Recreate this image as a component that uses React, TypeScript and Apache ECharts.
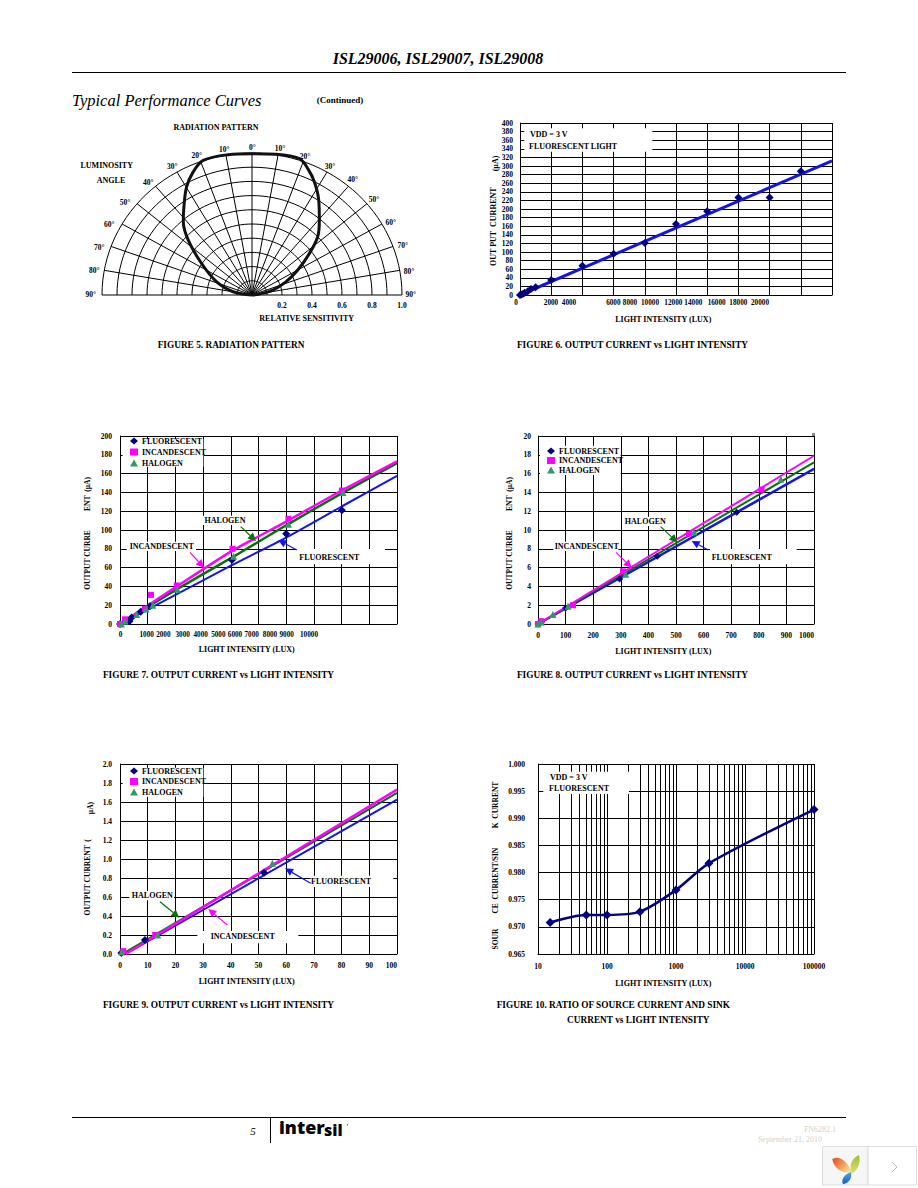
import React, { useEffect, useRef } from "react";
import * as echarts from "echarts";

// ---------- Figure 5: radiation pattern ----------
const ringValues = [0.1, 0.2, 0.3, 0.4, 0.5, 0.6, 0.7, 0.8, 0.9, 1.0];
const rayAngles = [-90, -80, -70, -60, -50, -40, -30, -20, -10, 0, 10, 20, 30, 40, 50, 60, 70, 80, 90];
// relative x / y position of the sensitivity contour, read clockwise from bottom-left
const patternX = [0, -0.126, -0.237, -0.336, -0.425, -0.458, -0.454, -0.436, -0.392, -0.325, -0.159, 0, 0.161, 0.316, 0.372, 0.416, 0.445, 0.449, 0.438, 0.383, 0.305, 0.228, 0.139, 0.051, 0];
const patternY = [0, 0.023, 0.094, 0.222, 0.386, 0.515, 0.621, 0.761, 0.867, 0.948, 0.988, 0.995, 0.991, 0.96, 0.89, 0.796, 0.667, 0.527, 0.41, 0.293, 0.176, 0.094, 0.035, 0.007, 0];

// ---------- Figure 6 ----------
const fig6X = [0, 100, 200, 300, 500, 700, 1000, 2000, 4000, 6000, 8000, 10000, 12000, 14000, 16000, 18000];
const fig6Y = [0, 1, 3, 5, 9, 14, 18, 35, 68, 96, 121, 165, 195, 227, 227, 288];
const fig6LineX = [0, 20000];
const fig6LineY = [0, 312];
const fig6Ticks = ["0", "2000", "4000", "6000", "8000", "10000", "12000", "14000", "16000", "18000", "20000"];

// ---------- Figure 7 ----------
const fig7FluorX = [0, 340, 420, 750, 1080, 4040, 6000, 8010];
const fig7FluorY = [0, 3, 7, 13, 19, 68, 96, 121];
const fig7IncX = [0, 180, 900, 1120, 2050, 4060, 6080, 8010];
const fig7IncY = [0, 5, 16, 31, 41, 80, 112, 142];
const fig7HalX = [50, 180, 600, 940, 1180, 2070, 4100, 6080, 8050];
const fig7HalY = [0, 3, 10, 16, 20, 37, 72, 106, 140];
const fig7LineX = [0, 2000, 4000, 6000, 8000, 10000];
const fig7IncLine = [0, 39, 77, 109, 142, 173];
const fig7HalLine = [0, 36, 70, 105, 139, 171];
const fig7FluorLine = [0, 31, 62, 92, 125, 157.5];
const fig7Ticks = ["0", "1000", "2000", "3000", "4000", "5000", "6000", "7000", "8000", "9000", "10000"];

// ---------- Figure 8 ----------
const fig8FluorX = [0, 12, 100, 296, 432, 720];
const fig8FluorY = [0, 0.2, 1.7, 4.8, 7.2, 11.9];
const fig8IncX = [0, 12, 127, 308, 547, 810];
const fig8IncY = [0, 0.3, 2, 5.6, 9.6, 14.3];
const fig8HalX = [0, 12, 54, 109, 318, 565, 880];
const fig8HalY = [0, 0.2, 1, 1.9, 5.3, 9.8, 15.4];
const fig8LineX = [0, 1000];
const fig8IncLine = [0, 17.9];
const fig8HalLine = [0, 17.2];
const fig8FluorLine = [0, 16.5];

// ---------- Figure 9 ----------
const fig9FluorX = [0.5, 9, 52];
const fig9FluorY = [0.01, 0.148, 0.856];
const fig9IncX = [1.2, 12.7];
const fig9IncY = [0.03, 0.2];
const fig9HalX = [0.6, 13.6, 55];
const fig9HalY = [0.02, 0.2, 0.955];
const fig9IncLineX = [2, 100];
const fig9IncLine = [0, 1.73];
const fig9HalLineX = [2, 100];
const fig9HalLine = [0.02, 1.695];
const fig9FluorLineX = [2, 100];
const fig9FluorLine = [0, 1.625];

// ---------- Figure 10 ----------
const fig10X = [15, 50, 100, 300, 1000, 3000, 100000];
const fig10Y = [0.9708, 0.9722, 0.9722, 0.9728, 0.9768, 0.9817, 0.9916];
const fig10Minor = [20, 30, 40, 50, 60, 70, 80, 90, 200, 300, 400, 500, 600, 700, 800, 900, 2000, 3000, 4000, 5000, 6000, 7000, 8000, 9000, 20000, 30000, 40000, 50000, 60000, 70000, 80000, 90000];

const lampNames = ["FLUORESCENT", "INCANDESCENT", "HALOGEN"];
const serif = '"Liberation Serif", serif';
const NAVY = "#000080";
const BLUE = "#1414e6";
const MAGENTA = "#ff00ff";
const GREEN = "#057305";
const TEAL = "#339966";
const TICK = 7.5;

const zip = (a: number[], b: number[]) => a.map((v, i) => [v, b[i]]);

function text(t: string, x: number, y: number, o: any = {}) {
  return {
    type: "text",
    x,
    y,
    z: 6,
    rotation: o.rot ? Math.PI / 2 : 0,
    style: {
      text: t,
      fill: o.fill || "#000",
      textAlign: o.align || "center",
      textVerticalAlign: "middle",
      font: `${o.style || ""} ${o.weight || "bold"} ${o.size || 8}px ${o.family || serif}`,
    },
  };
}
// boxes and arrows are given in a local 3x frame with an origin
function whiteBox(ox: number, oy: number, b: number[]) {
  return {
    type: "rect",
    z: 1,
    shape: { x: ox + b[0] / 3, y: oy + b[1] / 3, width: (b[2] - b[0]) / 3, height: (b[3] - b[1]) / 3 },
    style: { fill: "#fff" },
  };
}
function arrow(ox: number, oy: number, a: number[], color: string) {
  const x1 = ox + a[0] / 3, y1 = oy + a[1] / 3, x2 = ox + a[2] / 3, y2 = oy + a[3] / 3;
  const t = Math.atan2(y2 - y1, x2 - x1);
  const L = 8, W = 4;
  const bx = x2 - L * Math.cos(t), by = y2 - L * Math.sin(t);
  return [
    { type: "line", z: 4, shape: { x1, y1, x2: bx, y2: by }, style: { stroke: color, lineWidth: 1.2 } },
    {
      type: "polygon",
      z: 4,
      shape: { points: [[x2, y2], [bx - W * Math.sin(t), by + W * Math.cos(t)], [bx + W * Math.sin(t), by - W * Math.cos(t)]] },
      style: { fill: color },
    },
  ];
}

const LINE = { color: "#000", width: 1 };
function xAxis(gridIndex: number, min: number, max: number, interval: number, showLabel: boolean) {
  return {
    type: "value", gridIndex, min, max, interval,
    axisLine: { lineStyle: LINE, onZero: false }, axisTick: { show: false },
    splitLine: { show: true, lineStyle: LINE },
    axisLabel: { show: showLabel, color: "#000", fontFamily: serif, fontSize: TICK, fontWeight: "bold", margin: 7, alignMaxLabel: "right", hideOverlap: false, formatter: (v: number) => String(v) },
  };
}
function yAxis(gridIndex: number, min: number, max: number, interval: number, digits: number, size: number, margin: number) {
  return {
    type: "value", gridIndex, min, max, interval,
    axisLine: { lineStyle: LINE, onZero: false }, axisTick: { show: false },
    splitLine: { show: true, lineStyle: LINE },
    axisLabel: { color: "#000", fontFamily: serif, fontSize: size, fontWeight: "bold", margin, formatter: (v: number) => v.toFixed(digits) },
  };
}
function lineS(i: number, data: number[][], color: string, width: number, smooth: any = false) {
  return { type: "line", xAxisIndex: i, yAxisIndex: i, data, smooth, showSymbol: false, symbol: "none", z: 2, lineStyle: { color, width }, itemStyle: { color }, clip: false, silent: true };
}
function dots(i: number, name: string, data: number[][], symbol: string, color: string, size: number) {
  return { type: "scatter", name, xAxisIndex: i, yAxisIndex: i, data, symbol, symbolSize: size, z: 3, itemStyle: { color, opacity: 1 }, clip: false, silent: true };
}
function lampLegend(left: number, top: number, itemGap: number) {
  return {
    data: lampNames, left, top, orient: "vertical", itemWidth: 8, itemHeight: 7, itemGap, padding: 0, selectedMode: false,
    textStyle: { fontFamily: serif, fontSize: 8, fontWeight: "bold", color: "#000", padding: [0, 0, 0, -1] },
  };
}

echarts.graphic.registerShape("petalOrange", echarts.graphic.extendPath("M52 58 C70 45 95 60 112 98 C85 100 58 90 52 58Z", {}) as any);
echarts.graphic.registerShape("petalGreen", echarts.graphic.extendPath("M132 45 C138 65 130 90 112 100 C100 85 108 55 132 45Z", {}) as any);
echarts.graphic.registerShape("petalBlue", echarts.graphic.extendPath("M108 96 C112 112 105 128 84 133 C78 120 85 105 108 96Z", {}) as any);

function buildOption() {
  const g: any[] = [];
  const add = (...e: any[]) => g.push(...e);

  // page furniture
  add(text("ISL29006, ISL29007, ISL29008", 438, 58, { style: "italic", size: 16 }));
  add({ type: "line", z: 1, shape: { x1: 72, y1: 72.5, x2: 846, y2: 72.5 }, style: { stroke: "#000", lineWidth: 1 } });
  add(text("Typical Performance Curves", 72, 100, { style: "italic", weight: "normal", size: 16.5, align: "left" }));
  add(text("(Continued)", 340, 100, { size: 9 }));
  add({ type: "line", z: 1, shape: { x1: 72, y1: 1117.5, x2: 846, y2: 1117.5 }, style: { stroke: "#000", lineWidth: 1 } });
  add({ type: "line", z: 1, shape: { x1: 270.5, y1: 1117, x2: 270.5, y2: 1143 }, style: { stroke: "#000", lineWidth: 1 } });
  add(text("5", 253, 1131, { style: "italic", weight: "normal", size: 11 }));
  add(text("inter", 279, 1127, { weight: "800", size: 18, family: '"Open Sans", sans-serif', align: "left" }));
  add(text("sil", 324, 1130, { weight: "800", size: 16, family: '"Open Sans", sans-serif', align: "left" }));
  add({ type: "rect", z: 5, shape: { x: 347, y: 1124, width: 1, height: 1.5 }, style: { fill: "#666" } });
  add(text("FN6282.1", 820, 1129, { weight: "normal", fill: "#cfcfcf" }));
  add(text("September 21, 2010", 790, 1139, { weight: "normal", fill: "#cfcfcf" }));
  // page widget
  add({ type: "rect", z: 1, shape: { x: 822.5, y: 1146.5, width: 45.5, height: 38.5 }, style: { fill: "#f6f6f6", stroke: "#dcdcdc", lineWidth: 1 } });
  add({ type: "rect", z: 1, shape: { x: 868, y: 1146.5, width: 48.5, height: 38.5 }, style: { fill: "#fff", stroke: "#dcdcdc", lineWidth: 1 } });
  add({ type: "polyline", z: 2, shape: { points: [[892, 1162], [897, 1167], [892, 1172]] }, style: { stroke: "#bbb", fill: "none", lineWidth: 1 } });
  const linear = (c1: string, c2: string, x2: number, y2: number) => ({ type: "linear", x: 0, y: 0, x2, y2, colorStops: [{ offset: 0, color: c1 }, { offset: 1, color: c2 }] });
  add({ type: "petalOrange", z: 2, x: 815, y: 1140, scaleX: 1 / 3, scaleY: 1 / 3, style: { fill: linear("#e4481a", "#ffd98a", 1, 0.6) } });
  add({ type: "petalGreen", z: 2, x: 815, y: 1140, scaleX: 1 / 3, scaleY: 1 / 3, style: { fill: linear("#9fc12a", "#dcdc7c", 0, 1) } });
  add({ type: "petalBlue", z: 2, x: 815, y: 1140, scaleX: 1 / 3, scaleY: 1 / 3, style: { fill: linear("#5aa8e2", "#0b63bd", 0, 1) } });

  // Figure 5 texts
  add(text("RADIATION PATTERN", 216, 127));
  add(text("LUMINOSITY", 106.7, 165));
  add(text("ANGLE", 111, 180));
  add(text("RELATIVE SENSITIVITY", 306.7, 318.5));
  add(text("FIGURE 5. RADIATION PATTERN", 231, 344.5, { size: 9.3 }));
  const degLabels: [string, number, number][] = [
    ["0°", 577, 322], ["10°", 660, 325], ["20°", 735, 348], ["30°", 810, 378], ["40°", 878, 417], ["50°", 942, 478], ["60°", 992, 547], ["70°", 1028, 617], ["80°", 1047, 693], ["90°", 1052, 763],
    ["10°", 493, 328], ["20°", 410, 345], ["30°", 337, 378], ["40°", 265, 428], ["50°", 195, 488], ["60°", 148, 553], ["70°", 118, 622], ["80°", 103, 692], ["90°", 92, 762],
  ];
  degLabels.forEach(([t, x, y]) => add(text(t, 60 + x / 3, 40 + y / 3, { size: 7.5 })));

  // Figure 6
  add(whiteBox(480, 110, [133, 55, 517, 125]));
  add(text("VDD = 3 V", 530, 134.7, { align: "left" }));
  add(text("FLUORESCENT LIGHT", 529, 146, { align: "left" }));
  add(text("OUT PUT  CURRENT", 493, 226.7, { rot: 1 }));
  add(text("(µA)", 495, 163.5, { rot: 1 }));
  add(text("LIGHT INTENSITY (LUX)", 663.3, 319.3));
  add(text("FIGURE 6. OUTPUT CURRENT vs LIGHT INTENSITY", 632.5, 344.5, { size: 9.3 }));
  [108, 213, 267, 400, 450, 510, 580, 640, 710, 775, 840].forEach((x, i) => add(text(fig6Ticks[i], 480 + x / 3, 303, { size: 7.2 })));

  // Figure 7
  [[158, 42, 400, 125], [385, 272, 530, 300], [170, 350, 378, 378], [680, 372, 945, 418]].forEach((b) => add(whiteBox(70, 425, b)));
  add(text("HALOGEN", 225, 520.7));
  add(text("INCANDESCENT", 161.7, 546));
  add(text("FLUORESCENT", 329.3, 557.7));
  add(...arrow(70, 425, [512, 305, 558, 348], GREEN), ...arrow(70, 425, [360, 382, 402, 428], MAGENTA), ...arrow(70, 425, [680, 375, 625, 345], BLUE));
  add(text("OUTPUT CURRE", 87.3, 560, { rot: 1, size: 7.5 }));
  add(text("ENT  (µA)", 87.3, 494, { rot: 1, size: 7.5 }));
  add(text("LIGHT INTENSITY (LUX)", 246.7, 649));
  add(text("FIGURE 7. OUTPUT CURRENT vs LIGHT INTENSITY", 218.5, 674.5, { size: 9.3 }));
  [152, 230, 280, 338, 392, 445, 495, 545, 600, 650, 717].forEach((x, i) => add(text(fig7Ticks[i], 70 + x / 3, 635, { size: 7.2 })));

  // Figure 8
  [[150, 62, 392, 150], [398, 275, 540, 303], [190, 350, 385, 378], [660, 372, 920, 418]].forEach((b) => add(whiteBox(490, 425, b)));
  add(text("HALOGEN", 645.3, 521.7));
  add(text("INCANDESCENT", 586.7, 546));
  add(text("FLUORESCENT", 741.7, 557.7));
  add(...arrow(490, 425, [512, 305, 562, 352], GREEN), ...arrow(490, 425, [378, 382, 425, 428], MAGENTA), ...arrow(490, 425, [655, 375, 605, 348], BLUE));
  add(text("OUTPUT CURRE", 509, 560, { rot: 1, size: 7.5 }));
  add(text("ENT  (µA)", 509, 494, { rot: 1, size: 7.5 }));
  add(text("LIGHT INTENSITY (LUX)", 663.3, 651.7));
  add(text("FIGURE 8. OUTPUT CURRENT vs LIGHT INTENSITY", 632.5, 674.5, { size: 9.3 }));
  add({ type: "rect", z: 5, shape: { x: 812, y: 433, width: 3, height: 3 }, style: { fill: "#888" } });

  // Figure 9
  [[158, 38, 400, 125], [178, 408, 312, 436], [382, 528, 685, 565], [722, 362, 970, 396]].forEach((b) => add(whiteBox(70, 755, b)));
  add(text("HALOGEN", 152.3, 895.7));
  add(text("INCANDESCENT", 242.7, 936.7));
  add(text("FLUORESCENT", 341, 881.7));
  add(...arrow(70, 755, [270, 440, 328, 488], GREEN), ...arrow(70, 755, [472, 510, 415, 462], MAGENTA), ...arrow(70, 755, [722, 385, 645, 340], BLUE));
  add(text("OUTPUT CURRENT  (", 87.5, 877.3, { rot: 1, size: 7.5 }));
  add(text("µA)", 90.5, 808, { rot: 1, size: 7.5 }));
  add(text("LIGHT INTENSITY (LUX)", 246.7, 981.7));
  add(text("FIGURE 9. OUTPUT CURRENT vs LIGHT INTENSITY", 218.5, 1004.5, { size: 9.3 }));

  // Figure 10
  add(whiteBox(485, 755, [175, 50, 432, 117]));
  add(text("VDD = 3 V", 550, 777, { align: "left" }));
  add(text("FLUORESCENT", 549, 788, { align: "left" }));
  add(text("SOUR", 495, 939, { rot: 1, size: 7.5 }));
  add(text("CE  CURRENT/SIN", 495, 880.7, { rot: 1, size: 7.5 }));
  add(text("K  CURRENT", 495, 805, { rot: 1, size: 7.5 }));
  add(text("LIGHT INTENSITY (LUX)", 663.3, 983.3));
  add(text("FIGURE 10. RATIO OF SOURCE CURRENT AND SINK", 613.3, 1004.5, { size: 9.3 }));
  add(text("CURRENT vs LIGHT INTENSITY", 638.3, 1019.5, { size: 9.3 }));

  const grids = [
    { left: 102, top: 153, width: 300, height: 142 },
    { left: 520, top: 123, width: 312, height: 172 },
    { left: 120, top: 436, width: 277, height: 188 },
    { left: 538, top: 436, width: 276, height: 188 },
    { left: 120, top: 764, width: 277, height: 190 },
    { left: 538, top: 764, width: 276, height: 190 },
  ];

  const polarX = {
    type: "value", gridIndex: 0, min: -1, max: 1, interval: 0.2,
    axisLine: { show: false }, axisTick: { show: false }, splitLine: { show: false },
    axisLabel: { color: "#000", fontFamily: serif, fontSize: TICK, fontWeight: "bold", margin: 6, formatter: (v: number) => (v > 0.01 ? v.toFixed(1) : "") },
  };
  const polarY = { type: "value", gridIndex: 0, min: 0, max: 1, show: false, axisLine: { onZero: false } };

  const ringSeries = {
    type: "custom", xAxisIndex: 0, yAxisIndex: 0, silent: true, z: 1, data: ringValues.map((r) => [r]),
    renderItem: (_: any, api: any) => {
      const r = api.value(0);
      const points: number[][] = [];
      for (let a = -90; a <= 90; a += 3) {
        const t = (a * Math.PI) / 180;
        points.push(api.coord([r * Math.sin(t), r * Math.cos(t)]));
      }
      return { type: "polyline", shape: { points }, style: { stroke: "#000", fill: "none", lineWidth: 1 } };
    },
  };
  const raySeries = {
    type: "custom", xAxisIndex: 0, yAxisIndex: 0, silent: true, z: 1, data: rayAngles.map((a) => [a]),
    renderItem: (_: any, api: any) => {
      const t = (api.value(0) * Math.PI) / 180;
      const c0 = api.coord([0, 0]);
      const c1 = api.coord([Math.sin(t), Math.cos(t)]);
      return { type: "line", shape: { x1: c0[0], y1: c0[1], x2: c1[0], y2: c1[1] }, style: { stroke: "#000", lineWidth: 1 } };
    },
  };

  const series: any[] = [
    ringSeries,
    raySeries,
    lineS(0, zip(patternX, patternY), "#111", 3, 0.35),
    lineS(1, zip(fig6LineX, fig6LineY), BLUE, 3),
    dots(1, "FIG6", zip(fig6X, fig6Y), "diamond", NAVY, 8),
    lineS(2, zip(fig7LineX, fig7FluorLine), BLUE, 2, 0.2),
    lineS(2, zip(fig7LineX, fig7HalLine), GREEN, 2.5, 0.2),
    lineS(2, zip(fig7LineX, fig7IncLine), MAGENTA, 2.5, 0.2),
    dots(2, lampNames[0], zip(fig7FluorX, fig7FluorY), "diamond", NAVY, 8),
    dots(2, lampNames[1], zip(fig7IncX, fig7IncY), "rect", MAGENTA, 6),
    dots(2, lampNames[2], zip(fig7HalX, fig7HalY), "triangle", TEAL, 7),
    lineS(3, zip(fig8LineX, fig8FluorLine), BLUE, 2.5),
    lineS(3, zip(fig8LineX, fig8HalLine), GREEN, 2),
    lineS(3, zip(fig8LineX, fig8IncLine), MAGENTA, 2),
    dots(3, lampNames[0], zip(fig8FluorX, fig8FluorY), "diamond", NAVY, 7),
    dots(3, lampNames[1], zip(fig8IncX, fig8IncY), "rect", MAGENTA, 6),
    dots(3, lampNames[2], zip(fig8HalX, fig8HalY), "triangle", TEAL, 7),
    lineS(4, zip(fig9FluorLineX, fig9FluorLine), BLUE, 2),
    lineS(4, zip(fig9HalLineX, fig9HalLine), GREEN, 2),
    lineS(4, zip(fig9IncLineX, fig9IncLine), MAGENTA, 2.5),
    dots(4, lampNames[0], zip(fig9FluorX, fig9FluorY), "diamond", NAVY, 8),
    dots(4, lampNames[1], zip(fig9IncX, fig9IncY), "rect", MAGENTA, 6),
    dots(4, lampNames[2], zip(fig9HalX, fig9HalY), "triangle", TEAL, 7),
    {
      ...lineS(5, zip(fig10X, fig10Y), NAVY, 2.5, 0.3),
      markLine: { silent: true, symbol: "none", label: { show: false }, lineStyle: { color: "#000", width: 1, type: "solid" }, data: fig10Minor.map((v) => ({ xAxis: v })), z: 0 },
    },
    dots(5, "FIG10", zip(fig10X, fig10Y), "diamond", NAVY, 9),
  ];

  return {
    animation: false,
    backgroundColor: "#fff",
    grid: grids,
    xAxis: [
      polarX,
      xAxis(1, 0, 20000, 2000, false),
      xAxis(2, 0, 10000, 1000, false),
      xAxis(3, 0, 1000, 100, true),
      xAxis(4, 0, 100, 10, true),
      {
        type: "log", gridIndex: 5, min: 10, max: 100000, logBase: 10,
        axisLine: { lineStyle: LINE, onZero: false }, axisTick: { show: false },
        splitLine: { show: true, lineStyle: LINE },
        axisLabel: { color: "#000", fontFamily: serif, fontSize: TICK, fontWeight: "bold", margin: 8, formatter: (v: number) => String(v) },
      },
    ],
    yAxis: [
      polarY,
      yAxis(1, 0, 400, 20, 0, TICK, 7),
      yAxis(2, 0, 200, 20, 0, TICK, 8),
      yAxis(3, 0, 20, 2, 0, TICK, 7),
      yAxis(4, 0, 2, 0.2, 1, TICK, 8),
      yAxis(5, 0.965, 1, 0.005, 3, TICK, 13),
    ],
    legend: [lampLegend(130, 437, 3), lampLegend(547, 447, 1.5), lampLegend(130, 767, 2.5)],
    graphic: { elements: g },
    series,
  };
}

export default function App() {
  const ref = useRef<HTMLDivElement>(null);
  useEffect(() => {
    document.body.style.margin = "0";
    const chart = echarts.init(ref.current!, undefined, { renderer: "svg" });
    chart.setOption(buildOption() as any);
    return () => chart.dispose();
  }, []);
  return <div ref={ref} style={{ width: 918, height: 1188, background: "#fff" }} />;
}
